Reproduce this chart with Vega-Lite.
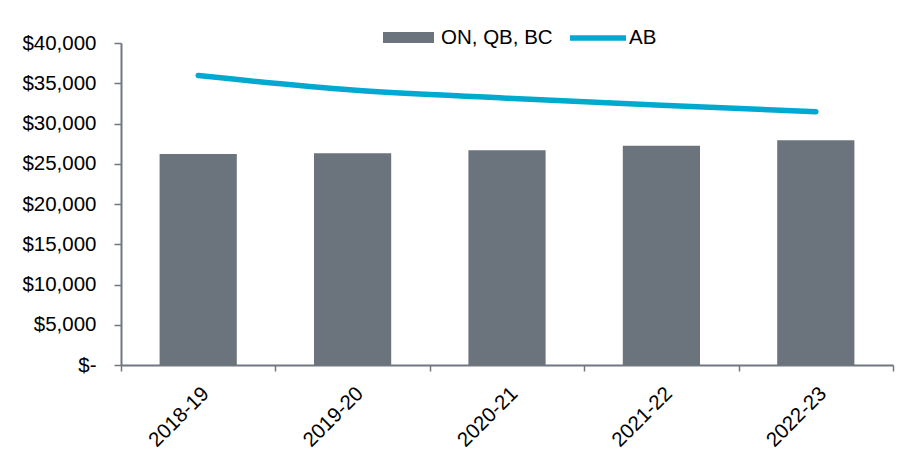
{
  "$schema": "https://vega.github.io/schema/vega-lite/v6.json",
  "width": 772,
  "height": 322,
  "autosize": "none",
  "padding": {"left": 121, "top": 43, "right": 9, "bottom": 94},
  "background": "white",
  "data": {
    "values": [
      {"year": "2018-19", "onqbbc": 26200, "ab": 35950},
      {"year": "2019-20", "onqbbc": 26300, "ab": 34160},
      {"year": "2020-21", "onqbbc": 26680, "ab": 33150},
      {"year": "2021-22", "onqbbc": 27240, "ab": 32270},
      {"year": "2022-23", "onqbbc": 27920, "ab": 31470}
    ]
  },
  "config": {
    "view": {"stroke": null},
    "font": "Liberation Sans",
    "axis": {
      "grid": false,
      "title": null,
      "labelFont": "Liberation Sans",
      "labelFontSize": 20.5,
      "labelColor": "#000000",
      "domainColor": "#70777f",
      "domainWidth": 2,
      "tickColor": "#70777f",
      "tickWidth": 1.5
    },
    "legend": {
      "labelFont": "Liberation Sans",
      "labelFontSize": 20.5,
      "labelColor": "#000000",
      "padding": 0,
      "title": null
    }
  },
  "encoding": {
    "x": {
      "field": "year",
      "type": "ordinal",
      "sort": null,
      "scale": {"paddingInner": 0, "paddingOuter": 0},
      "axis": {
        "labelAngle": -45,
        "tickBand": "extent",
        "tickSize": 6,
        "labelPadding": 12
      }
    }
  },
  "layer": [
    {
      "mark": {"type": "bar", "width": {"band": 0.5}},
      "encoding": {
        "y": {
          "field": "onqbbc",
          "type": "quantitative",
          "scale": {"domain": [0, 40000], "nice": false},
          "axis": {
            "values": [0, 5000, 10000, 15000, 20000, 25000, 30000, 35000, 40000],
            "labelExpr": "datum.value == 0 ? '$-' : '$' + format(datum.value, ',')",
            "tickSize": 7,
            "labelPadding": 18
          }
        },
        "fill": {
          "datum": "ON, QB, BC",
          "scale": {"range": ["#6b737c"]},
          "legend": {
            "orient": "none",
            "legendX": 262,
            "legendY": -31,
            "symbolType": "M-1,-0.216H1V0.216H-1Z",
            "symbolSize": 2601,
            "symbolStrokeWidth": 0,
            "symbolOpacity": 1,
            "labelOffset": 7
          }
        }
      }
    },
    {
      "mark": {"type": "line", "interpolate": "monotone", "strokeWidth": 5.5, "strokeCap": "round"},
      "encoding": {
        "y": {"field": "ab", "type": "quantitative"},
        "stroke": {
          "datum": "AB",
          "scale": {"range": ["#00a9d0"]},
          "legend": {
            "orient": "none",
            "legendX": 446,
            "legendY": -36,
            "symbolType": "stroke",
            "symbolSize": 3136,
            "symbolStrokeWidth": 5.5,
            "labelOffset": 0
          }
        }
      }
    }
  ]
}
